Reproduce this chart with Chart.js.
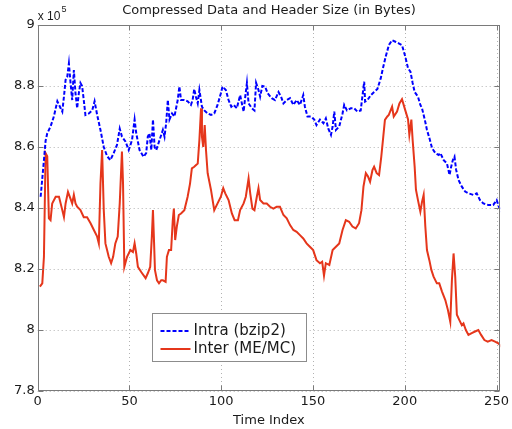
<!DOCTYPE html>
<html>
<head>
<meta charset="utf-8">
<script src="https://cdn.jsdelivr.net/npm/chart.js@4/dist/chart.umd.min.js"></script>
<style>
  html, body { margin: 0; padding: 0; background: #ffffff; }
  #wrap { width: 512px; height: 429px; }
</style>
</head>
<body>
<div id="wrap"><canvas id="c" width="512" height="429"></canvas></div>
<script>
// ---- data (values in units of 10^5 bytes) ----
const chartTitle = 'Compressed Data and Header Size (in Bytes)';
const xAxisTitle = 'Time Index';
const seriesNames = ['Intra (bzip2)', 'Inter (ME/MC)'];
const xTickValues = [0, 50, 100, 150, 200, 250];
const yTickValues = [7.8, 8, 8.2, 8.4, 8.6, 8.8, 9];

const intraPoints = [
  [1.6,8.437],[3.4,8.557],[4.3,8.62],[5.2,8.645],[7.0,8.667],[8.8,8.70],[10.7,8.75],[12.5,8.727],
  [13.4,8.716],[14.3,8.765],[15.2,8.82],[16.1,8.83],[17.0,8.874],[17.9,8.81],[18.8,8.754],[19.7,8.852],
  [20.6,8.776],[21.5,8.727],[22.4,8.776],[23.3,8.81],[24.2,8.80],[25.1,8.754],[26.0,8.705],[27.9,8.71],
  [29.7,8.72],[31.0,8.75],[32.4,8.705],[34.2,8.656],[36.0,8.60],[37.8,8.57],[39.6,8.557],[41.4,8.58],
  [43.2,8.607],[44.7,8.66],[45.9,8.634],[47.8,8.618],[49.6,8.59],[51.4,8.623],[52.8,8.69],[53.7,8.645],
  [55.5,8.59],[57.7,8.568],[59.1,8.58],[60.0,8.634],[60.9,8.645],[61.9,8.59],[62.8,8.69],[63.7,8.60],
  [64.6,8.59],[66.4,8.623],[68.2,8.656],[69.1,8.634],[70.0,8.678],[70.9,8.754],[71.8,8.69],[73.2,8.71],
  [74.5,8.70],[76.3,8.754],[77.2,8.798],[78.1,8.754],[79.9,8.754],[81.7,8.75],[83.5,8.738],[84.4,8.754],
  [85.3,8.79],[86.2,8.765],[87.2,8.743],[88.1,8.787],[89.5,8.732],[90.8,8.72],[92.6,8.71],[94.4,8.705],
  [96.2,8.71],[98.0,8.738],[99.8,8.776],[100.7,8.798],[102.5,8.787],[104.0,8.754],[105.5,8.732],[106.7,8.738],
  [108.5,8.727],[110.3,8.77],[112.2,8.716],[113.1,8.765],[114.0,8.81],[114.9,8.743],[116.7,8.727],[118.1,8.72],
  [119.0,8.81],[120.3,8.787],[121.2,8.765],[122.4,8.80],[123.9,8.798],[125.3,8.776],[127.5,8.76],[129.3,8.754],
  [131.2,8.78],[132.6,8.765],[133.9,8.743],[135.7,8.754],[137.5,8.76],[139.3,8.738],[141.1,8.754],[142.9,8.738],
  [144.7,8.77],[145.6,8.732],[147.0,8.70],[148.9,8.70],[150.7,8.69],[151.9,8.672],[153.8,8.69],[155.7,8.678],
  [157.0,8.694],[158.3,8.661],[159.8,8.64],[160.7,8.667],[161.6,8.716],[162.5,8.656],[164.3,8.667],[166.1,8.71],
  [167.0,8.738],[168.5,8.72],[170.6,8.727],[172.4,8.727],[174.2,8.716],[176.0,8.72],[176.9,8.765],[177.9,8.814],
  [178.4,8.749],[179.7,8.754],[181.5,8.77],[183.3,8.78],[185.1,8.79],[186.9,8.825],[188.3,8.863],[189.6,8.896],
  [191.4,8.935],[193.1,8.95],[194.9,8.945],[196.7,8.94],[198.5,8.934],[200.3,8.896],[201.8,8.858],[203.1,8.847],
  [204.3,8.81],[205.4,8.78],[207.2,8.765],[208.5,8.738],[209.4,8.727],[210.9,8.69],[212.1,8.656],[213.4,8.63],
  [214.9,8.596],[216.7,8.58],[218.5,8.574],[219.4,8.58],[221.2,8.557],[223.0,8.546],[224.4,8.508],[225.3,8.535],
  [226.2,8.557],[227.1,8.568],[228.0,8.525],[229.3,8.492],[231.1,8.47],[232.9,8.454],[234.7,8.448],[237.4,8.443],
  [239.2,8.448],[241.0,8.426],[242.8,8.415],[245.5,8.41],[248.2,8.41],[250.1,8.426],[251.3,8.404],[252.8,8.388]
];

const interPoints = [
  [1.2,8.142],[2.5,8.153],[3.4,8.24],[4.3,8.58],[5.2,8.57],[6.1,8.366],[7.0,8.36],[7.9,8.415],
  [9.8,8.437],[11.6,8.437],[13.4,8.393],[14.3,8.37],[15.2,8.415],[16.5,8.453],[17.9,8.43],[18.8,8.415],
  [19.7,8.443],[20.6,8.415],[21.5,8.404],[23.3,8.393],[25.1,8.37],[26.9,8.37],[28.8,8.35],[30.6,8.328],
  [32.4,8.306],[33.3,8.284],[34.2,8.48],[35.1,8.59],[36.0,8.393],[36.9,8.284],[37.8,8.262],[38.7,8.24],
  [40.0,8.219],[41.1,8.24],[42.3,8.284],[43.6,8.306],[44.7,8.415],[45.9,8.585],[46.5,8.48],[47.2,8.207],
  [48.7,8.24],[50.5,8.262],[51.9,8.256],[52.8,8.284],[53.7,8.25],[54.6,8.207],[56.4,8.19],[58.8,8.17],
  [60.0,8.186],[61.3,8.207],[62.2,8.306],[62.8,8.393],[63.3,8.306],[63.9,8.196],[65.0,8.163],[66.1,8.153],
  [67.3,8.163],[68.2,8.163],[69.7,8.158],[70.4,8.24],[71.5,8.262],[72.7,8.262],[73.6,8.36],[74.2,8.398],
  [74.9,8.295],[75.8,8.339],[76.9,8.377],[78.1,8.382],[79.9,8.393],[81.7,8.437],[83.0,8.48],[84.0,8.53],
  [85.3,8.535],[87.2,8.546],[88.1,8.623],[89.0,8.727],[89.5,8.634],[90.2,8.60],[91.0,8.672],[91.7,8.59],
  [92.6,8.514],[94.4,8.46],[96.2,8.393],[98.0,8.415],[99.8,8.437],[101.1,8.465],[102.2,8.448],[104.0,8.426],
  [105.8,8.382],[107.3,8.36],[109.1,8.36],[110.3,8.393],[112.2,8.415],[113.4,8.437],[114.9,8.497],[115.8,8.448],
  [117.0,8.398],[118.1,8.393],[119.4,8.437],[120.3,8.465],[121.2,8.426],[123.0,8.415],[124.8,8.415],[126.6,8.404],
  [128.4,8.398],[130.2,8.404],[132.0,8.404],[133.9,8.377],[135.7,8.366],[137.5,8.344],[139.3,8.328],[141.1,8.322],
  [142.9,8.311],[144.7,8.30],[146.5,8.284],[148.3,8.273],[150.1,8.262],[151.9,8.229],[153.8,8.219],[155.0,8.224],
  [156.0,8.178],[157.0,8.219],[158.9,8.213],[160.7,8.262],[162.5,8.273],[164.3,8.284],[166.1,8.328],[167.9,8.36],
  [169.7,8.355],[171.5,8.339],[173.3,8.333],[175.1,8.35],[176.4,8.393],[177.5,8.47],[178.8,8.514],[180.0,8.503],
  [181.1,8.486],[182.4,8.524],[183.3,8.535],[184.7,8.514],[186.0,8.508],[187.2,8.568],[188.3,8.634],[189.2,8.689],
  [190.5,8.70],[191.3,8.705],[193.1,8.732],[194.0,8.70],[195.8,8.716],[197.1,8.743],[198.5,8.757],[200.3,8.72],
  [201.8,8.69],[202.5,8.64],[203.6,8.69],[204.3,8.623],[205.4,8.535],[206.1,8.46],[207.2,8.426],[208.5,8.388],
  [209.4,8.42],[210.3,8.443],[211.2,8.34],[212.1,8.262],[213.4,8.229],[214.5,8.197],[215.7,8.175],[217.5,8.153],
  [218.8,8.153],[220.3,8.126],[222.1,8.098],[223.5,8.066],[224.8,8.027],[225.7,8.164],[226.6,8.251],[227.5,8.175],
  [228.4,8.05],[229.7,8.033],[231.1,8.016],[232.0,8.022],[233.3,8.0],[234.7,7.984],[236.5,7.99],[238.3,7.995],
  [240.1,8.0],[241.6,7.984],[243.4,7.967],[245.2,7.962],[247.3,7.967],[249.2,7.962],[251.0,7.956],[252.8,7.945]
];

// ---- styling ----
const FONT = '"DejaVu Sans", "Liberation Sans", Arial, sans-serif';
const BLUE = '#0000ff';
const RED = '#e5361b';
const TEXT = '#1a1a1a';

const toXY = pts => pts.map(p => ({ x: p[0], y: p[1] }));

const matlabFrame = {
  id: 'matlabFrame',
  beforeDatasetsDraw(chart) {
    const { ctx, chartArea: a, scales: { x, y } } = chart;
    ctx.save();
    ctx.strokeStyle = 'rgba(0,0,0,0.30)';
    ctx.lineWidth = 1;
    ctx.setLineDash([1, 3]);
    xTickValues.forEach(v => {
      const px = Math.round(x.getPixelForValue(v)) + 0.5;
      ctx.beginPath(); ctx.moveTo(px, a.top); ctx.lineTo(px, a.bottom); ctx.stroke();
    });
    yTickValues.forEach(v => {
      const py = Math.round(y.getPixelForValue(v)) + 0.5;
      ctx.beginPath(); ctx.moveTo(a.left, py); ctx.lineTo(a.right, py); ctx.stroke();
    });
    ctx.restore();
  },
  afterDatasetsDraw(chart) {
    const { ctx, chartArea: a, scales: { x, y } } = chart;
    ctx.save();
    // box
    ctx.setLineDash([]);
    ctx.lineWidth = 1;
    ctx.strokeStyle = '#7a7a7a';
    const L = Math.round(a.left) + 0.5, R = Math.round(a.right) - 0.5;
    const T = Math.round(a.top) + 0.5, B = Math.round(a.bottom) - 0.5;
    ctx.strokeRect(L, T, R - L, B - T);
    // inward ticks
    const tl = 5;
    xTickValues.forEach(v => {
      const px = Math.round(x.getPixelForValue(v)) + 0.5;
      ctx.beginPath();
      ctx.moveTo(px, B); ctx.lineTo(px, B - tl);
      ctx.moveTo(px, T); ctx.lineTo(px, T + tl);
      ctx.stroke();
    });
    yTickValues.forEach(v => {
      const py = Math.round(y.getPixelForValue(v)) + 0.5;
      ctx.beginPath();
      ctx.moveTo(L, py); ctx.lineTo(L + tl, py);
      ctx.moveTo(R, py); ctx.lineTo(R - tl, py);
      ctx.stroke();
    });

    // title
    ctx.fillStyle = TEXT;
    ctx.textAlign = 'center';
    ctx.textBaseline = 'middle';
    ctx.font = '13px ' + FONT;
    ctx.fillText(chartTitle, (a.left + a.right) / 2, 10.5);

    // exponent label
    ctx.textAlign = 'left';
    ctx.textBaseline = 'alphabetic';
    ctx.font = '12px "Liberation Sans", Arial, sans-serif';
    ctx.fillText('x 10', a.left, 20);
    const w = ctx.measureText('x 10').width;
    ctx.font = '9px "Liberation Sans", Arial, sans-serif';
    ctx.fillText('5', a.left + w + 1, 12);

    // legend
    const lx = 152.5, ly = 313.5, lw = 154, lh = 48;
    ctx.fillStyle = '#ffffff';
    ctx.fillRect(lx, ly, lw, lh);
    ctx.strokeStyle = '#8c8c8c';
    ctx.lineWidth = 1;
    ctx.strokeRect(lx, ly, lw, lh);
    const rows = [
      { y: 331, color: BLUE, dash: [4, 2], label: seriesNames[0] },
      { y: 349, color: RED, dash: [], label: seriesNames[1] }
    ];
    rows.forEach(r => {
      ctx.strokeStyle = r.color;
      ctx.lineWidth = 2;
      ctx.setLineDash(r.dash);
      ctx.beginPath(); ctx.moveTo(160.5, r.y); ctx.lineTo(190.5, r.y); ctx.stroke();
      ctx.setLineDash([]);
      ctx.fillStyle = TEXT;
      ctx.font = '15px ' + FONT;
      ctx.textAlign = 'left';
      ctx.textBaseline = 'middle';
      ctx.fillText(r.label, 193.5, r.y);
    });
    ctx.restore();
  }
};

new Chart(document.getElementById('c'), {
  type: 'line',
  data: {
    datasets: [
      {
        label: seriesNames[0],
        data: toXY(intraPoints),
        borderColor: BLUE,
        borderWidth: 2,
        borderDash: [4, 2],
        pointRadius: 0,
        tension: 0,
        fill: false
      },
      {
        label: seriesNames[1],
        data: toXY(interPoints),
        borderColor: RED,
        borderWidth: 2,
        pointRadius: 0,
        tension: 0,
        fill: false
      }
    ]
  },
  options: {
    responsive: false,
    animation: false,
    devicePixelRatio: 1,
    layout: { padding: { left: 0, right: 10, top: 25, bottom: 0 } },
    plugins: {
      legend: { display: false },
      title: { display: false },
      tooltip: { enabled: false }
    },
    scales: {
      x: {
        type: 'linear',
        min: 0,
        max: 252,
        afterFit: s => { s.height = 38; },
        afterBuildTicks: s => { s.ticks = xTickValues.map(v => ({ value: v })); },
        grid: { display: false, drawTicks: false },
        border: { display: false },
        ticks: {
          color: TEXT,
          font: { family: FONT, size: 13 },
          padding: 3,
          maxRotation: 0,
          autoSkip: false,
          callback: v => String(v)
        },
        title: {
          display: true,
          text: xAxisTitle,
          color: TEXT,
          font: { family: FONT, size: 13, lineHeight: 1.2 },
          padding: { top: 0, bottom: 1 }
        }
      },
      y: {
        type: 'linear',
        min: 7.8,
        max: 9,
        afterFit: s => { s.width = 37.7; },
        afterBuildTicks: s => { s.ticks = yTickValues.map(v => ({ value: v })); },
        grid: { display: false, drawTicks: false },
        border: { display: false },
        ticks: {
          color: TEXT,
          font: { family: FONT, size: 13 },
          padding: 3,
          autoSkip: false,
          callback: v => String(Number(v.toFixed(1)))
        }
      }
    }
  },
  plugins: [matlabFrame]
});
</script>
</body>
</html>
